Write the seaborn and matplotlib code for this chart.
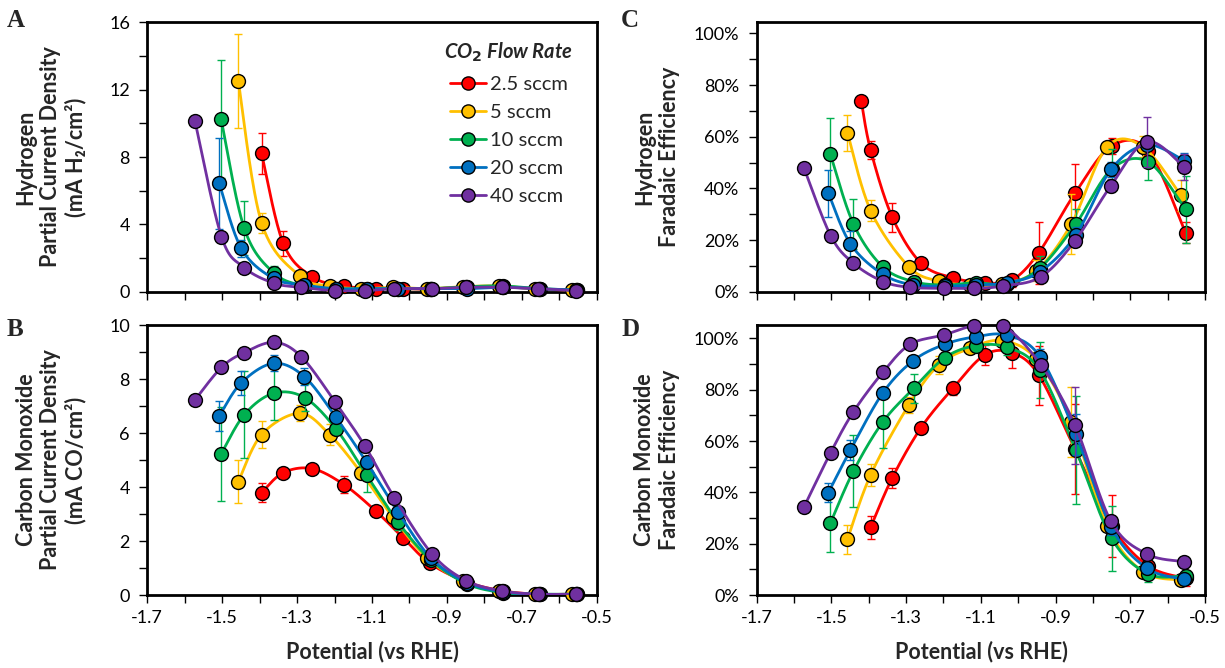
import numpy as np
import matplotlib
matplotlib.use("Agg")
import matplotlib.pyplot as plt
from matplotlib.lines import Line2D
from matplotlib.ticker import MultipleLocator, FixedLocator, FuncFormatter
import seaborn as sns

nan = np.nan

# ---------------- data ----------------
series_labels = ["2.5 sccm", "5 sccm", "10 sccm", "20 sccm", "40 sccm"]
series_colors = ["#FF0000", "#FFC000", "#00B050", "#0070C0", "#7030A0"]
x_ticks = [-1.7, -1.5, -1.3, -1.1, -0.9, -0.7, -0.5]

# potentials (V vs RHE) for each flow rate
x_red = [-1.42, -1.395, -1.337, -1.26, -1.175, -1.09, -1.017, -0.945, -0.848, -0.75, -0.652, -0.552]
x_yel = [-1.457, -1.395, -1.293, -1.213, -1.129, -1.044, -0.952, -0.858, -0.762, -0.666, -0.565]
x_grn = [-1.503, -1.441, -1.363, -1.28, -1.196, -1.114, -1.03, -0.943, -0.846, -0.75, -0.652, -0.552]
x_blu = [-1.508, -1.449, -1.363, -1.281, -1.196, -1.114, -1.03, -0.942, -0.846, -0.751, -0.655, -0.555]
x_pur = [-1.573, -1.502, -1.441, -1.361, -1.289, -1.199, -1.119, -1.04, -0.939, -0.848, -0.752, -0.656, -0.556]

# Panel A: H2 partial current density (mA/cm2)
A_red = [nan, 8.22, 2.87, 0.89, 0.34, 0.18, 0.18, 0.15, 0.30, 0.30, 0.15, 0.10]
A_yel = [12.51, 4.10, 0.93, 0.34, 0.18, 0.26, 0.18, 0.30, 0.34, 0.18, 0.10]
A_grn = [10.26, 3.76, 1.13, 0.34, 0.18, 0.18, 0.18, 0.18, 0.30, 0.34, 0.18, 0.10]
A_blu = [6.44, 2.57, 0.79, 0.40, 0.18, 0.18, 0.18, 0.18, 0.18, 0.26, 0.18, 0.10]
A_pur = [10.16, 3.27, 1.43, 0.50, 0.26, 0.06, 0.06, 0.18, 0.18, 0.26, 0.26, 0.18, 0.06]
A_red_err = [0, 1.2, 0.75, 0.2, 0.1, 0.05, 0.05, 0.05, 0.1, 0.1, 0.05, 0.05]
A_yel_err = [2.8, 0.6, 0.2, 0.1, 0.05, 0.05, 0.05, 0.1, 0.1, 0.05, 0.05]
A_grn_err = [3.5, 1.6, 0.4, 0.1, 0.05, 0.05, 0.05, 0.05, 0.1, 0.1, 0.05, 0.05]
A_blu_err = [2.7, 0.5, 0.2, 0.1, 0.05, 0.05, 0.05, 0.05, 0.05, 0.1, 0.05, 0.05]
A_pur_err = [0, 0.3, 0.1, 0.05, 0.05, 0.05, 0.05, 0.05, 0.05, 0.05, 0.05, 0.05, 0.05]

# Panel B: CO partial current density (mA/cm2)
B_red = [nan, 3.79, 4.53, 4.68, 4.09, 3.11, 2.12, 1.17, 0.49, 0.15, 0.03, 0.03]
B_yel = [4.19, 5.94, 6.73, 5.94, 4.53, 2.88, 1.36, 0.53, 0.15, 0.03, 0.03]
B_grn = [5.22, 6.68, 7.47, 7.31, 6.15, 4.43, 2.69, 1.30, 0.41, 0.09, 0.03, 0.03]
B_blu = [6.63, 7.86, 8.58, 8.09, 6.58, 4.91, 3.06, 1.36, 0.46, 0.12, 0.03, 0.03]
B_pur = [7.22, 8.43, 8.98, 9.36, 8.83, 7.16, 5.52, 3.60, 1.51, 0.53, 0.15, 0.03, 0.03]
B_red_err = [0, 0.35, 0.1, 0.1, 0.3, 0.15, 0.15, 0.1, 0.1, 0.05, 0.02, 0.02]
B_yel_err = [0.8, 0.5, 0.3, 0.4, 0.2, 0.15, 0.1, 0.05, 0.05, 0.02, 0.02]
B_grn_err = [1.73, 1.62, 1.0, 0.5, 0.2, 0.6, 0.3, 0.2, 0.1, 0.05, 0.02, 0.02]
B_blu_err = [0.55, 0.45, 0.3, 0.3, 0.2, 0.2, 0.2, 0.1, 0.1, 0.05, 0.02, 0.02]
B_pur_err = [0, 0.1, 0.1, 0.1, 0.1, 0.1, 0.1, 0.1, 0.1, 0.05, 0.02, 0.02, 0.02]

# Panel C: H2 Faradaic efficiency (%)
C_red = [73.8, 54.8, 28.8, 11.0, 5.4, 3.5, 4.5, 15.1, 38.1, 56.4, 54.6, 22.8]
C_yel = [61.5, 31.4, 9.7, 4.1, 2.6, 3.0, 8.1, 26.2, 56.1, 56.1, 37.4]
C_grn = [53.3, 26.2, 9.7, 3.9, 2.6, 3.5, 3.0, 9.0, 26.2, 47.4, 50.3, 31.9]
C_blu = [38.1, 18.5, 6.8, 2.6, 2.2, 2.6, 3.5, 7.7, 21.9, 47.4, 56.8, 50.7]
C_pur = [47.7, 21.7, 11.0, 3.9, 1.7, 1.3, 1.3, 2.2, 5.8, 19.7, 41.0, 58.1, 48.4]
C_red_err = [0, 3.5, 5.7, 1.5, 1.5, 1.0, 2.5, 12.0, 11.5, 3.0, 3.0, 4.0]
C_yel_err = [7.0, 4.0, 1.0, 1.0, 1.0, 1.0, 4.0, 11.6, 2.0, 4.0, 6.0]
C_grn_err = [14.0, 9.5, 1.5, 1.0, 1.0, 1.0, 1.0, 5.0, 6.0, 8.0, 7.0, 13.0]
C_blu_err = [9.0, 5.0, 1.0, 1.0, 1.0, 1.0, 1.0, 2.0, 3.0, 3.0, 2.0, 3.0]
C_pur_err = [0, 1.5, 1.0, 1.0, 0.5, 0.5, 0.5, 0.5, 1.0, 2.0, 2.5, 9.7, 5.0]

# Panel D: CO Faradaic efficiency (%)
D_red = [nan, 26.4, 45.7, 65.2, 80.5, 93.5, 94.4, 85.7, 56.8, 27.0, 11.3, 6.5]
D_yel = [21.7, 46.8, 74.0, 89.6, 96.1, 99.1, 92.0, 67.5, 26.9, 9.1, 5.8]
D_grn = [27.9, 48.3, 67.3, 80.5, 92.5, 97.1, 96.5, 87.7, 56.5, 22.1, 8.2, 7.5]
D_blu = [39.9, 56.5, 78.6, 91.3, 97.7, 100.6, 101.2, 92.9, 62.7, 26.4, 10.4, 6.1]
D_pur = [34.4, 55.5, 71.4, 87.0, 97.7, 101.3, 104.9, 105.0, 89.6, 66.2, 28.8, 16.0, 13.0]
D_red_err = [0, 4.4, 3.9, 1.5, 2.5, 3.9, 5.8, 11.5, 17.5, 12.0, 2.5, 3.0]
D_yel_err = [5.6, 4.2, 3.0, 3.6, 2.0, 2.0, 2.5, 13.6, 2.0, 2.0, 2.0]
D_grn_err = [11.0, 14.0, 10.0, 5.7, 2.0, 2.0, 3.0, 11.0, 21.0, 12.7, 3.0, 2.0]
D_blu_err = [3.6, 4.0, 2.0, 1.5, 1.5, 1.5, 1.5, 3.0, 8.0, 3.0, 2.0, 2.0]
D_pur_err = [0, 1.5, 1.0, 1.0, 1.0, 1.0, 1.0, 1.0, 2.0, 15.0, 2.0, 1.5, 1.5]

x_err = 0.012  # horizontal error on potential

xs = [x_red, x_yel, x_grn, x_blu, x_pur]
panels = {
    "A": ([A_red, A_yel, A_grn, A_blu, A_pur], [A_red_err, A_yel_err, A_grn_err, A_blu_err, A_pur_err]),
    "B": ([B_red, B_yel, B_grn, B_blu, B_pur], [B_red_err, B_yel_err, B_grn_err, B_blu_err, B_pur_err]),
    "C": ([C_red, C_yel, C_grn, C_blu, C_pur], [C_red_err, C_yel_err, C_grn_err, C_blu_err, C_pur_err]),
    "D": ([D_red, D_yel, D_grn, D_blu, D_pur], [D_red_err, D_yel_err, D_grn_err, D_blu_err, D_pur_err]),
}

# ---------------- style ----------------
sns.set_theme(style="ticks")
plt.rcParams["font.family"] = ["Lato", "DejaVu Sans"]
plt.rcParams["axes.linewidth"] = 2.0

W, H = 1225, 668
fig = plt.figure(figsize=(W / 100, H / 100), dpi=100)


def box(l, t, r, b):
    return [l / W, 1 - b / H, (r - l) / W, (b - t) / H]


axes = {
    "A": fig.add_axes(box(147.3, 22.3, 596.7, 291.7)),
    "B": fig.add_axes(box(147.3, 325, 596.7, 595)),
    "C": fig.add_axes(box(756.7, 22.3, 1205, 291.7)),
    "D": fig.add_axes(box(756.7, 325, 1205, 595)),
}
ylims = {"A": (0, 16), "B": (0, 10), "C": (0, 104.3), "D": (0, 105.2)}
ymajor = {"A": 4, "B": 2, "C": 20, "D": 20}
yminor = {"A": 2, "B": 1, "C": 10, "D": 10}


def excel_smooth(x, y, sx, sy, n=30):
    P = np.column_stack([np.asarray(x) * sx, np.asarray(y) * sy])
    m = len(P)
    out = []
    for i in range(m - 1):
        p0 = P[i - 1] if i > 0 else P[i]
        p1, p2 = P[i], P[i + 1]
        p3 = P[i + 2] if i + 2 < m else P[i + 1]
        c1 = p1 + (p2 - p0) / 6.0
        c2 = p2 - (p3 - p1) / 6.0
        t = np.linspace(0, 1, n, endpoint=(i == m - 2))[:, None]
        seg = (1 - t) ** 3 * p1 + 3 * (1 - t) ** 2 * t * c1 + 3 * (1 - t) * t ** 2 * c2 + t ** 3 * p2
        out.append(seg)
    Q = np.vstack(out)
    return Q[:, 0] / sx, Q[:, 1] / sy


for key, ax in axes.items():
    ys, es = panels[key]
    ylo, yhi = ylims[key]
    sx = 449.0 / 1.2
    sy = 270.0 / (yhi - ylo)
    for k in range(5):
        x = np.asarray(xs[k], float)
        y = np.asarray(ys[k], float)
        e = np.asarray(es[k], float)
        ok = ~np.isnan(y)
        x, y, e = x[ok], y[ok], e[ok]
        col = series_colors[k]
        z = 3 + k * 3
        cx, cy = excel_smooth(x, y, sx, sy)
        sns.lineplot(x=cx, y=cy, sort=False, estimator=None, color=col, lw=2.0,
                     ax=ax, legend=False, zorder=z)
        ax.errorbar(x, y, yerr=e, xerr=x_err, fmt="none", ecolor=col, elinewidth=1.0,
                    capsize=3, capthick=1.0, zorder=z + 1, clip_on=False)
        sns.scatterplot(x=x, y=y, color=col, edgecolor="black", linewidth=1.0, s=100,
                        ax=ax, legend=False, zorder=z + 2, clip_on=False)

    ax.set_xlim(-1.7, -0.5)
    ax.set_ylim(ylo, yhi)
    ax.xaxis.set_major_locator(FixedLocator(x_ticks))
    ax.xaxis.set_minor_locator(MultipleLocator(0.1))
    ax.xaxis.set_major_formatter(FuncFormatter(lambda v, _: f"{v:.1f}"))
    ax.yaxis.set_major_locator(MultipleLocator(ymajor[key]))
    ax.yaxis.set_minor_locator(MultipleLocator(yminor[key]))
    if key in ("C", "D"):
        ax.yaxis.set_major_formatter(FuncFormatter(lambda v, _: f"{v:.0f}%"))
    else:
        ax.yaxis.set_major_formatter(FuncFormatter(lambda v, _: f"{v:.0f}"))
    ax.tick_params(which="both", direction="out", length=5.5, width=1.0, color="black",
                   labelsize=13, labelcolor="black", pad=7)
    ax.tick_params(axis="x", pad=5)
    if key in ("A", "C"):
        ax.tick_params(axis="x", labelbottom=False)
    for s in ax.spines.values():
        s.set_visible(True)
        s.set_linewidth(2.0)
        s.set_color("black")
    ax.set_xlabel("")
    ax.set_ylabel("")

# legend in panel A
handles = [Line2D([0], [0], color=c, lw=2.0, marker="o", markersize=9.5,
                  markerfacecolor=c, markeredgecolor="black", markeredgewidth=1.0)
           for c in series_colors]
leg = axes["A"].legend(handles, series_labels, loc="upper right",
                       bbox_to_anchor=(0.975, 0.975), frameon=False,
                       fontsize=14.5, handlelength=1.8, handletextpad=0.2,
                       labelspacing=0.55, borderpad=0.1,
                       title="CO$_\\mathbf{2}$ Flow Rate")
leg.get_title().set_fontsize(14.5)
leg.get_title().set_fontweight("bold")
leg.get_title().set_fontstyle("italic")

# axis titles
lab = dict(fontsize=15.5, fontweight="bold", rotation=90, ha="center", va="center",
           multialignment="center", linespacing=1.2)
fig.text(51 / W, 1 - 157 / H, "Hydrogen\nPartial Current Density\n(mA H\u2082/cm\u00b2)", **lab)
fig.text(51 / W, 1 - 460 / H, "Carbon Monoxide\nPartial Current Density\n(mA CO/cm\u00b2)", **lab)
fig.text(657 / W, 1 - 157 / H, "Hydrogen\nFaradaic Efficiency", **lab)
fig.text(657 / W, 1 - 460 / H, "Carbon Monoxide\nFaradaic Efficiency", **lab)
xl = dict(fontsize=15.5, fontweight="bold", ha="center", va="center")
fig.text(372 / W, 1 - 652 / H, "Potential (vs RHE)", **xl)
fig.text(981 / W, 1 - 652 / H, "Potential (vs RHE)", **xl)

# panel letters
pl = dict(fontsize=18, fontweight="bold", family=["Liberation Serif", "DejaVu Serif"],
          va="top", ha="left")
fig.text(7 / W, 1 - 9 / H, "A", **pl)
fig.text(7 / W, 1 - 318 / H, "B", **pl)
fig.text(621 / W, 1 - 9 / H, "C", **pl)
fig.text(621 / W, 1 - 318 / H, "D", **pl)

fig.savefig("out.png", dpi=100)
